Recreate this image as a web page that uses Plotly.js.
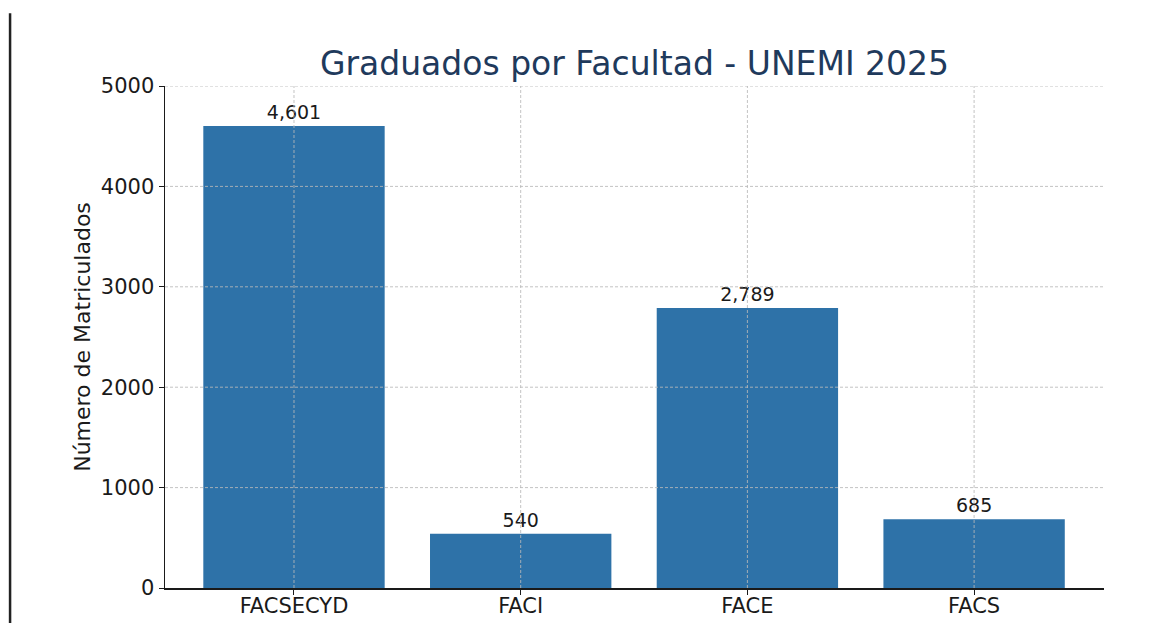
<!DOCTYPE html>
<html>
<head>
<meta charset="utf-8">
<script src="https://cdn.plot.ly/plotly-3.0.1.min.js"></script>
<style>html,body{margin:0;padding:0;background:#fff;}#chart{width:1160px;height:623px;}</style>
</head>
<body>
<div id="chart"></div>
<script>
const categories = ["FACSECYD", "FACI", "FACE", "FACS"];
const graduados = [4601, 540, 2789, 685];
const yTicks = [0, 1000, 2000, 3000, 4000, 5000];
const chartTitle = "Graduados por Facultad - UNEMI 2025";
const yTitle = "Número de Matriculados";

const font = "DejaVu Sans, sans-serif";
const gridColor = "rgba(185,185,185,0.85)";

const shapes = [];
yTicks.filter(v => v > 0).forEach(v => {
  shapes.push({type: "line", xref: "paper", yref: "y", x0: 0, x1: 1, y0: v, y1: v,
    line: {color: gridColor, width: 1, dash: "3px,2px"}, layer: "above"});
});
categories.forEach(c => {
  shapes.push({type: "line", xref: "x", yref: "paper", x0: c, x1: c, y0: 0, y1: 1,
    line: {color: gridColor, width: 1, dash: "3px,2px"}, layer: "above"});
});
// left frame line of the picture
shapes.push({type: "line", xref: "paper", yref: "paper", x0: -0.165, x1: -0.165, y0: -0.08, y1: 1.145,
  line: {color: "#222", width: 2.5}, layer: "above"});

const trace = {
  type: "bar",
  x: categories,
  y: graduados,
  width: 0.8,
  marker: {color: "#2e72a8"},
  text: graduados.map(v => v.toLocaleString("en-US")),
  textposition: "outside",
  textfont: {family: font, size: 19, color: "#1a1a1a"},
  cliponaxis: false,
  hoverinfo: "x+y"
};

const layout = {
  width: 1160, height: 623,
  margin: {l: 165, r: 56, t: 86, b: 35},
  paper_bgcolor: "#fff", plot_bgcolor: "#fff",
  font: {family: font, color: "#1a1a1a"},
  showlegend: false,
  title: {text: chartTitle, x: 0.5, xref: "paper", xanchor: "center", y: 1 - 63/623, yref: "container", yanchor: "middle",
    font: {family: font, size: 33, color: "#1f3a5c"}},
  xaxis: {
    type: "category", range: [-0.569, 3.573],
    showgrid: false, zeroline: false,
    showline: true, linecolor: "#1a1a1a", linewidth: 1.5,
    ticks: "outside", ticklen: 5, tickcolor: "#1a1a1a",
    ticklabelstandoff: -7,
    tickfont: {family: font, size: 21, color: "#1a1a1a"}
  },
  yaxis: {
    range: [0, 5000], tickvals: yTicks, ticktext: yTicks.map(String),
    showgrid: false, zeroline: false,
    showline: true, linecolor: "#1a1a1a", linewidth: 1.5,
    ticks: "outside", ticklen: 5, tickcolor: "#1a1a1a",
    tickfont: {family: font, size: 21, color: "#1a1a1a"},
    title: {text: yTitle, font: {family: font, size: 22, color: "#1a1a1a"}, standoff: 4}
  },
  shapes: shapes
};

Plotly.newPlot("chart", [trace], layout, {displayModeBar: false, staticPlot: true});
</script>
</body>
</html>
